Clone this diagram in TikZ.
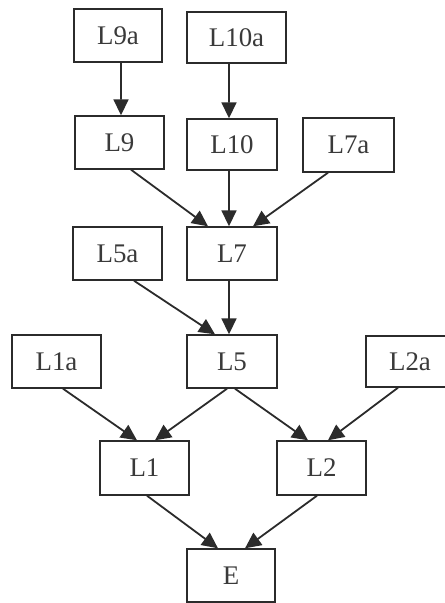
\documentclass[tikz,border=0pt]{standalone}
\usepackage{fontspec}
\setmainfont{Liberation Serif}
\usetikzlibrary{arrows.meta}
\definecolor{ink}{HTML}{2B2B2B}
\definecolor{txt}{HTML}{3A3A3A}
\begin{document}
\begin{tikzpicture}[x=1bp,y=-1bp,
  box/.style={draw=ink,line width=1.4bp,fill=white,inner sep=0pt,
    minimum width=#1,minimum height=53bp,text=txt,font=\fontsize{27}{27}\selectfont},
  box/.default=89bp,
  arr/.style={draw=ink,line width=1.8bp,-{Triangle[length=16bp,width=15bp]}}]
\useasboundingbox (0,0) rectangle (445,603);
\node[box=88bp] (L9a) at (118,35.5) {L9a};
\node[box=99bp,minimum height=51bp] (L10a) at (236.5,37.5) {L10a};
\node[box] (L9) at (119.5,142.5) {L9};
\node[box=90bp,minimum height=51bp] (L10) at (232,144.5) {L10};
\node[box=91bp,minimum height=54bp] (L7a) at (348.5,145) {L7a};
\node[box] (L5a) at (117.5,253.5) {L5a};
\node[box=90bp] (L7) at (232,253.5) {L7};
\node[box] (L1a) at (56.5,361.5) {L1a};
\node[box=90bp] (L5) at (232,361.5) {L5};
\node[box=88bp,minimum height=51bp] (L2a) at (410,361.5) {L2a};
\node[box,minimum height=54bp] (L1) at (144.5,468) {L1};
\node[box,minimum height=54bp] (L2) at (321.5,468) {L2};
\node[box=88bp] (E) at (231,575.5) {E};
\draw[arr] ([xshift=3bp]L9a.south) -- ([xshift=1.5bp]L9.north);
\draw[arr] ([xshift=-7.5bp]L10a.south) -- ([xshift=-3bp]L10.north);
\draw[arr] ([xshift=11.5bp]L9.south) -- ([xshift=-24bp]L7.north);
\draw[arr] ([xshift=-3bp]L10.south) -- ([xshift=-3bp]L7.north);
\draw[arr] ([xshift=-20.5bp]L7a.south) -- ([xshift=21bp]L7.north);
\draw[arr] ([xshift=16.5bp]L5a.south) -- ([xshift=-17bp]L5.north);
\draw[arr] ([xshift=-3bp]L7.south) -- ([xshift=-3bp]L5.north);
\draw[arr] ([xshift=6.5bp]L1a.south) -- ([xshift=-7.5bp]L1.north);
\draw[arr] ([xshift=-5bp]L5.south) -- ([xshift=10.5bp]L1.north);
\draw[arr] ([xshift=3bp]L5.south) -- ([xshift=-13.5bp]L2.north);
\draw[arr] ([xshift=-12bp]L2a.south) -- ([xshift=6.5bp]L2.north);
\draw[arr] ([xshift=2.5bp]L1.south) -- ([xshift=-13bp]E.north);
\draw[arr] ([xshift=-4.5bp]L2.south) -- ([xshift=14bp]E.north);
\end{tikzpicture}
\end{document}
